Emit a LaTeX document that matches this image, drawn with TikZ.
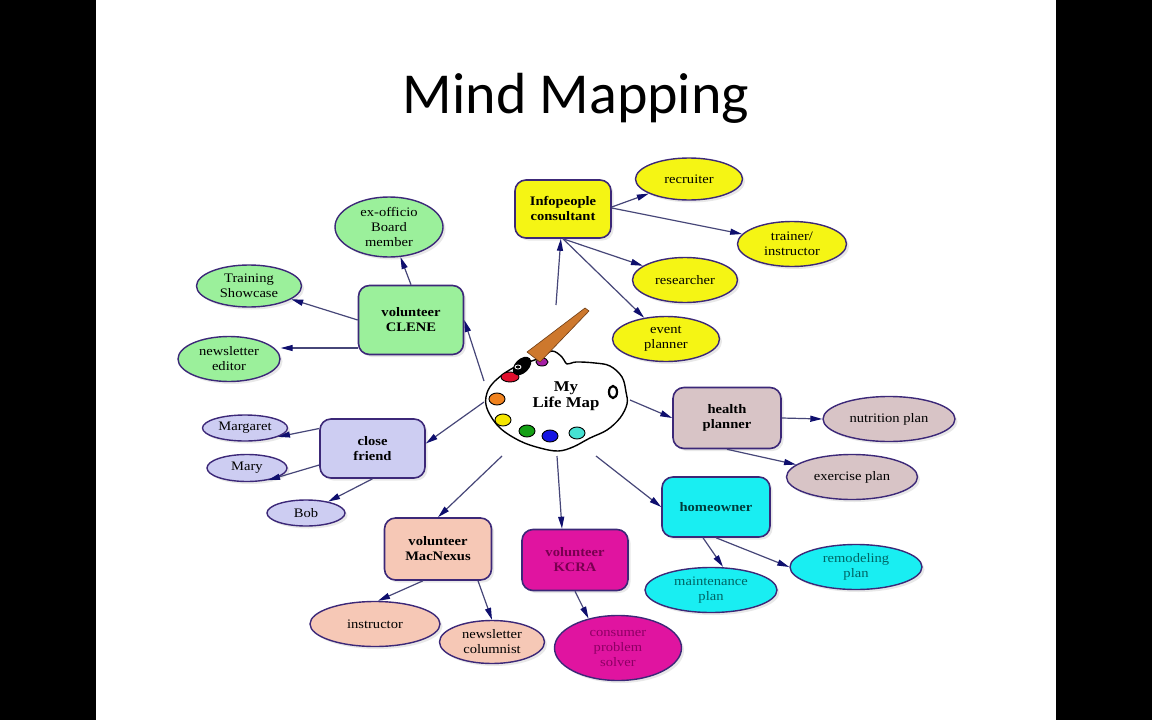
\documentclass[tikz,border=0pt]{standalone}
\usepackage{fontspec}
\setmainfont{Liberation Serif}[FakeStretch=1.12]
\newfontfamily\titlefont{Carlito}
\usetikzlibrary{arrows.meta,shapes.geometric,shadows}
\newcommand\nfs{\fontsize{13}{15}\selectfont}
\definecolor{bord}{RGB}{60,40,120}
\definecolor{edgec}{RGB}{70,70,120}
\definecolor{tipc}{RGB}{15,15,110}
\definecolor{cyel}{RGB}{245,245,20}
\definecolor{cgrn}{RGB}{155,240,155}
\definecolor{clav}{RGB}{205,205,242}
\definecolor{cpch}{RGB}{246,200,182}
\definecolor{cmag}{RGB}{224,20,160}
\definecolor{ctau}{RGB}{216,196,198}
\definecolor{ccya}{RGB}{25,238,242}
\definecolor{tmag}{RGB}{120,0,80}
\definecolor{tteal}{RGB}{0,100,100}
\definecolor{brushc}{RGB}{205,120,45}
\tikzset{
  mbox/.style={draw=bord, line width=1.6pt, rounded corners=11pt, inner sep=2pt, align=center,
    font=\nfs\bfseries, drop shadow={opacity=0.18, shadow xshift=2.5pt, shadow yshift=-2.5pt}},
  moval/.style={ellipse, draw=bord, line width=1.4pt, inner sep=0pt, align=center, font=\nfs,
    drop shadow={opacity=0.18, shadow xshift=2.5pt, shadow yshift=-2.5pt}},
  marr/.style={draw=edgec, line width=1.2pt, -{Triangle[length=12pt,width=6pt,color=tipc]}},
  paint/.style={draw=black, line width=0.9pt},
}
\begin{document}
\begin{tikzpicture}[x=1pt,y=-1pt]
\useasboundingbox (0,0) rectangle (1152,720);
\fill[black] (0,0) rectangle (1152,720);
\fill[white] (96,0) rectangle (1056,720);

\node[font=\titlefont\fontsize{58}{60}\selectfont, anchor=base] (title) at (576,113) {Mind Mapping};

% palette
\draw[line width=1.4pt, fill=white] plot[smooth cycle, tension=0.6] coordinates {(493,383) (513,368) (540,358) (552,351) (562,357) (567,364) (576,362) (595,363) (610,366) (622,377) (626,392) (627,404) (620,418) (607,430) (590,438) (573,447) (558,451) (540,448) (520,441) (500,428) (488,411) (486,397)};
\filldraw[paint, fill={rgb,255:red,165;green,30;blue,165}] (542,362) ellipse (6pt and 4pt);
\filldraw[paint, fill={rgb,255:red,225;green,15;blue,45}] (510,377) ellipse (9pt and 5pt);
\filldraw[paint, fill={rgb,255:red,240;green,130;blue,30}] (497,399) ellipse (8pt and 6pt);
\filldraw[paint, fill={rgb,255:red,245;green,230;blue,0}] (503,420) ellipse (8pt and 6pt);
\filldraw[paint, fill={rgb,255:red,20;green,160;blue,20}] (527,431) ellipse (8pt and 6pt);
\filldraw[paint, fill={rgb,255:red,20;green,20;blue,225}] (550,436) ellipse (8pt and 6pt);
\filldraw[paint, fill={rgb,255:red,70;green,225;blue,210}] (577,433) ellipse (8pt and 6pt);
\draw[line width=2.2pt] (613,392) ellipse (4pt and 6pt);
\filldraw[fill=brushc, draw={rgb,255:red,110;green,60;blue,20}, line width=0.6pt] (527,352) -- (585,308) -- (589,311) -- (540,362) -- cycle;
\fill[black, rotate around={45:(522,366)}] (522,366) ellipse (11pt and 7pt);
\draw[white, line width=0.8pt] (518,367) ellipse (3pt and 2pt);
\node[font=\fontsize{15}{16}\selectfont\bfseries, align=center] (paltext) at (566,396) {My\\Life Map};

% central-ring nodes
\node[mbox, fill=cyel, minimum width=96pt, minimum height=58pt] (info) at (563,209) {Infopeople\\consultant};
\node[mbox, fill=cgrn, minimum width=105pt, minimum height=69pt] (clene) at (411,320) {volunteer\\CLENE};
\node[mbox, fill=clav, minimum width=105pt, minimum height=59pt] (close) at (372.5,448.5) {close\\friend};
\node[mbox, fill=cpch, minimum width=107pt, minimum height=62pt] (mac) at (438,549) {volunteer\\MacNexus};
\node[mbox, fill=cmag, minimum width=106pt, minimum height=61pt, text=tmag] (kcra) at (575,560) {volunteer\\KCRA};
\node[mbox, fill=ctau, minimum width=108pt, minimum height=61pt] (health) at (727,418) {health\\planner};
\node[mbox, fill=ccya, minimum width=108pt, minimum height=60pt, text={rgb,255:red,0;green,60;blue,60}] (home) at (716,507) {homeowner};

% leaves
\node[moval, fill=cyel, minimum width=107pt, minimum height=42pt] (recruiter) at (689,179) {recruiter};
\node[moval, fill=cyel, minimum width=109pt, minimum height=45pt] (trainer) at (792,244) {trainer/\\instructor};
\node[moval, fill=cyel, minimum width=105pt, minimum height=45pt] (researcher) at (685,280) {researcher};
\node[moval, fill=cyel, minimum width=107pt, minimum height=45pt] (event) at (666,339) {event\\planner};
\node[moval, fill=cgrn, minimum width=108pt, minimum height=60pt] (exofficio) at (389,227) {ex-officio\\Board\\member};
\node[moval, fill=cgrn, minimum width=105pt, minimum height=42pt] (training) at (249,286) {Training\\Showcase};
\node[moval, fill=cgrn, minimum width=102pt, minimum height=45pt] (editor) at (229,359) {newsletter\\editor};
\node[moval, fill=clav, minimum width=85pt, minimum height=26pt] (margaret) at (245,428) {Margaret};
\node[moval, fill=clav, minimum width=80pt, minimum height=27pt] (mary) at (247,468) {Mary};
\node[moval, fill=clav, minimum width=78pt, minimum height=26pt] (bob) at (306,513) {Bob};
\node[moval, fill=cpch, minimum width=130pt, minimum height=45pt] (instructor) at (375,624) {instructor};
\node[moval, fill=cpch, minimum width=105pt, minimum height=43pt] (columnist) at (492,642) {newsletter\\columnist};
\node[moval, fill=cmag, minimum width=127pt, minimum height=65pt, text={rgb,255:red,140;green,0;blue,100}] (consumer) at (618,648) {consumer\\problem\\solver};
\node[moval, fill=ctau, minimum width=132pt, minimum height=45pt] (nutrition) at (889,419) {nutrition plan};
\node[moval, fill=ctau, minimum width=131pt, minimum height=45pt] (exercise) at (852,477) {exercise plan};
\node[moval, fill=ccya, minimum width=132pt, minimum height=45pt, text=tteal] (remodel) at (856,567) {remodeling\\plan};
\node[moval, fill=ccya, minimum width=132pt, minimum height=45pt, text=tteal] (maint) at (711,590) {maintenance\\plan};

% palette edge starts
\coordinate (p1) at (556,305);
\coordinate (p2) at (484,381);
\coordinate (p3) at (484,402);
\coordinate (p4) at (502,456);
\coordinate (p5) at (557,456);
\coordinate (p6) at (596,456);
\coordinate (p7) at (630,400);

\draw[marr] (p1) -- (info);
\draw[marr] (p2) -- (clene.east);
\draw[marr] (p3) -- ([yshift=5pt]close.east);
\draw[marr] (p4) -- (mac.north);
\draw[marr] (p5) -- ([xshift=-13pt]kcra.north);
\draw[marr] (p6) -- (home.west);
\draw[marr] (p7) -- (health.west);

\draw[marr] ([yshift=2pt]info.east) -- (recruiter);
\draw[marr] ([yshift=1pt]info.east) -- (trainer);
\draw[marr] (info.south) -- (researcher);
\draw[marr] (info.south) -- (event);

\draw[marr] (clene.north) -- (exofficio);
\draw[marr] (clene.west) -- (training);
\draw[marr] ([yshift=-28pt]clene.west) -- ([yshift=11pt]editor.east);

\draw[marr] ([yshift=20pt]close.west) -- (margaret.-15);
\draw[marr] ([yshift=-16.5pt]close.west) -- (mary.-30);
\draw[marr] (close.south) -- (bob);

\draw[marr] ([xshift=-15pt]mac.south) -- ([xshift=3pt]instructor.north);
\draw[marr] ([xshift=40pt]mac.south) -- (columnist.north);

\draw[marr] (kcra.south) -- (consumer.135);

\draw[marr] (health.east) -- (nutrition.west);
\draw[marr] (health.south) -- (exercise);

\draw[marr] ([xshift=-13pt]home.south) -- ([xshift=12pt]maint.north);
\draw[marr] (home.south) -- (remodel.west);
\end{tikzpicture}
\end{document}
